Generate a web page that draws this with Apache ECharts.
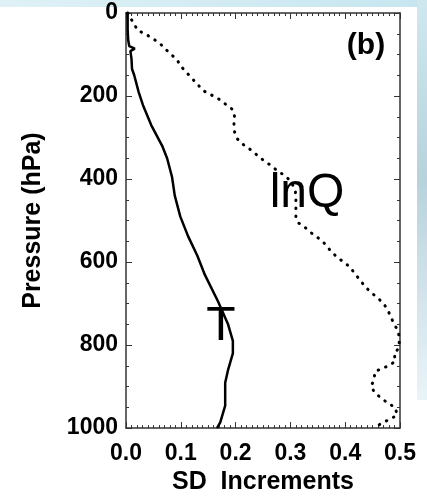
<!DOCTYPE html>
<html>
<head>
<meta charset="utf-8">
<script src="https://cdn.jsdelivr.net/npm/echarts@6/dist/echarts.min.js"></script>
<style>
  html, body { margin: 0; padding: 0; background: #fff; }
  #main { width: 427px; height: 500px; }
</style>
</head>
<body>
<div id="main"></div>
<script>
// T profile: pressure (hPa) and SD increment
var pressT = [0, 40, 65, 80, 86, 92, 110, 135, 150, 190, 222, 270, 320, 350, 395, 440, 490, 537, 584, 631, 695, 749, 790, 820, 861, 891, 946, 986, 1000];
var sdT = [0.003, 0.003, 0.004, 0.006, 0.016, 0.008, 0.010, 0.011, 0.015, 0.023, 0.031, 0.046, 0.066, 0.075, 0.084, 0.089, 0.099, 0.113, 0.130, 0.144, 0.168, 0.186, 0.195, 0.195, 0.186, 0.181, 0.181, 0.172, 0.166];

// lnQ profile
var pressQ = [0, 10, 21, 42, 50, 61, 72, 86, 99, 113, 131, 144, 187, 206, 220, 233, 249, 269, 286, 303, 316, 330, 340, 354, 366, 381, 391, 403, 423, 438, 473, 492, 505, 518, 533, 544, 556, 574, 588, 600, 612, 629, 643, 659, 673, 686, 700, 716, 732, 751, 767, 790, 809, 820, 838, 848, 856, 864, 883, 899, 915, 927, 940, 950, 968, 978, 987, 1000];
var sdQ = [0.003, 0.006, 0.013, 0.021, 0.035, 0.048, 0.061, 0.071, 0.082, 0.093, 0.102, 0.111, 0.141, 0.168, 0.182, 0.195, 0.198, 0.197, 0.198, 0.203, 0.213, 0.228, 0.237, 0.250, 0.263, 0.277, 0.289, 0.299, 0.308, 0.310, 0.310, 0.310, 0.314, 0.328, 0.341, 0.353, 0.363, 0.374, 0.385, 0.397, 0.409, 0.418, 0.427, 0.436, 0.447, 0.459, 0.470, 0.478, 0.483, 0.490, 0.497, 0.499, 0.497, 0.489, 0.492, 0.482, 0.468, 0.454, 0.453, 0.447, 0.454, 0.465, 0.478, 0.491, 0.495, 0.483, 0.468, 0.452];

var xTicks = ['0.0', '0.1', '0.2', '0.3', '0.4', '0.5'];
var yTicks = ['0', '200', '400', '600', '800', '1000'];

var chart = echarts.init(document.getElementById('main'));

function pairs(xs, ps) {
    var out = [];
    for (var i = 0; i < xs.length; i++) out.push([xs[i], ps[i]]);
    return out;
}

var axisFont = 'Liberation Sans, Arial, sans-serif';
var lineCol = '#333';

function xAx(pos, showLabel) {
    return {
        type: 'value', position: pos, min: 0, max: 0.5, interval: 0.1,
        axisLine: { show: true, onZero: false, lineStyle: { color: lineCol, width: 1.5 } },
        axisTick: { show: true, inside: true, length: 6, lineStyle: { color: lineCol, width: 1 } },
        minorTick: { show: true, splitNumber: 10, length: 3, lineStyle: { color: lineCol, width: 1 } },
        splitLine: { show: false },
        axisLabel: {
            show: showLabel, margin: 14, color: '#000', fontFamily: axisFont, fontWeight: 'bold', fontSize: 23,
            formatter: function (v) { return xTicks[Math.round(v * 10)]; }
        },
        name: showLabel ? 'SD  Increments' : '',
        nameLocation: 'middle', nameGap: 41,
        nameTextStyle: { color: '#000', fontFamily: axisFont, fontWeight: 'bold', fontSize: 25 }
    };
}

function yAx(pos, showLabel) {
    return {
        type: 'value', position: pos, min: 0, max: 1000, interval: 200, inverse: true,
        axisLine: { show: true, onZero: false, lineStyle: { color: lineCol, width: 1.5 } },
        axisTick: { show: true, inside: true, length: 6, lineStyle: { color: lineCol, width: 1 } },
        minorTick: { show: true, splitNumber: 4, length: 3, lineStyle: { color: lineCol, width: 1 } },
        splitLine: { show: false },
        axisLabel: {
            show: showLabel, margin: 8, color: '#000', fontFamily: axisFont, fontWeight: 'bold', fontSize: 23,
            formatter: function (v) { return yTicks[Math.round(v / 200)]; }
        },
        name: showLabel ? 'Pressure (hPa)' : '',
        nameLocation: 'middle', nameGap: 80, nameRotate: 90,
        nameTextStyle: { color: '#000', fontFamily: axisFont, fontWeight: 'bold', fontSize: 25 }
    };
}

var option = {
    animation: false,
    backgroundColor: '#fff',
    grid: { left: 126, right: 27, top: 13, bottom: 65 },
    xAxis: [xAx('bottom', true), xAx('top', false)],
    yAxis: [yAx('left', true), yAx('right', false)],
    graphic: [
        // slide background strips
        { type: 'rect', z: -10, shape: { x: 0, y: 0, width: 427, height: 7 },
          style: { fill: new echarts.graphic.LinearGradient(0, 0, 1, 0, [
              { offset: 0, color: '#dff1f7' }, { offset: 1, color: '#c6e6ef' }]) } },
        { type: 'rect', z: -10, shape: { x: 417, y: 0, width: 10, height: 400 },
          style: { fill: new echarts.graphic.LinearGradient(0, 0, 0, 1, [
              { offset: 0, color: '#cfe8f0' }, { offset: 0.45, color: '#b8d2db' },
              { offset: 1, color: '#eaf4f8' }]) } },
        { type: 'text', x: 366, y: 46, style: { text: '(b)', font: 'bold 30px ' + axisFont, fill: '#000', align: 'center', verticalAlign: 'middle' } },
        { type: 'text', x: 307, y: 194, style: { text: 'lnQ', font: '48px ' + axisFont, fill: '#000', align: 'center', verticalAlign: 'middle' } },
        { type: 'text', x: 221, y: 327, style: { text: 'T', font: '48px ' + axisFont, fill: '#000', align: 'center', verticalAlign: 'middle' } }
    ],
    series: [
        {
            name: 'T', type: 'line', xAxisIndex: 0, yAxisIndex: 0,
            data: pairs(sdT, pressT), showSymbol: false, symbol: 'none',
            lineStyle: { color: '#000', width: 2.5 }
        },
        {
            name: 'lnQ', type: 'line', xAxisIndex: 0, yAxisIndex: 0,
            data: pairs(sdQ, pressQ), showSymbol: false, symbol: 'none', clip: false,
            lineStyle: { color: '#000', width: 3, type: [0.5, 7.5], cap: 'round' }
        }
    ]
};

chart.setOption(option);
</script>
</body>
</html>
